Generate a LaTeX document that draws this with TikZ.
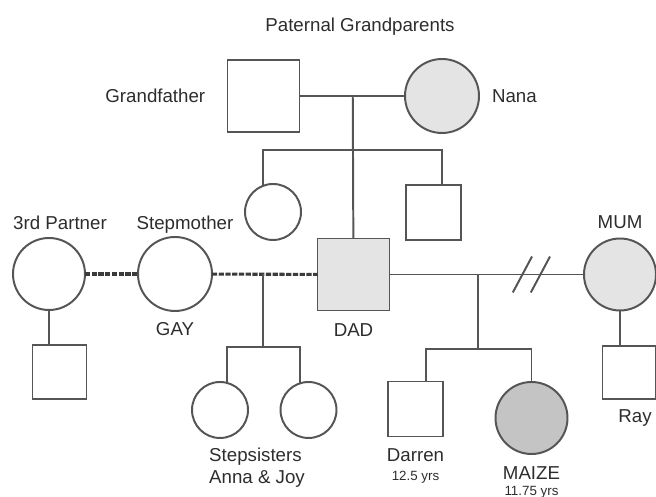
\documentclass[tikz,border=0pt]{standalone}
\usepackage{fontspec}
\setmainfont{Liberation Sans}
\usepackage{xcolor}
\definecolor{grisOscuro}{RGB}{85,85,85}
\definecolor{grisTexto}{RGB}{45,45,45}
\definecolor{grisClaro}{RGB}{228,228,228}
\definecolor{grisMedio}{RGB}{196,196,196}
\usetikzlibrary{positioning,calc}
\tikzstyle{edge}   =[grisOscuro, line width=1.4pt]
\tikzstyle{pareja} =[grisOscuro!70!black, line width=2.2pt,
                     dash pattern=on 3.6pt off 1.2pt]
\tikzstyle{male}   =[rectangle, draw=grisOscuro, fill=white,
                     line width=1.4pt, minimum size=1.375cm,
                     inner sep=0pt, outer sep=0pt]
\tikzstyle{female} =[circle, draw=grisOscuro, fill=white,
                     line width=1.4pt, minimum size=1.4cm,
                     inner sep=0pt, outer sep=0pt]

\begin{document}
\begin{tikzpicture}[font=\fontsize{13.3}{16}\selectfont,
    every label/.style={inner sep=0pt, text=grisTexto}]
    \useasboundingbox (0,0) rectangle (16.4,12.425);

    \node (titulo) at (9.0,11.75) [text=grisTexto] {Paternal Grandparents};

    % abuelos y tios
    \draw (6.5875,10.025) node (gf) [male,minimum size=1.8cm,label={[label distance=0.55cm]180:{Grandfather}}] {};
    \draw (11.05,10.025) node (nana) [female,fill=grisClaro,minimum size=1.85cm,label={[label distance=0.32cm]0:{Nana}}] {};
    \draw (6.825,7.125) node (aunt) [female] {};
    \draw (10.8375,7.1125) node (uncle) [male] {};

    % padres y parejas
    \draw (1.225,5.575) node (p3) [female,minimum size=1.8cm,label={[label distance=0.2cm,xshift=0.275cm]90:{3rd Partner}}] {};
    \draw (4.375,5.575) node (step) [female,minimum size=1.85cm,label={[label distance=0.09cm,xshift=0.25cm]90:{Stepmother}},label={[label distance=0.28cm]270:{GAY}}] {};
    \draw (8.8375,5.5625) node (dad) [male,fill=grisClaro,minimum size=1.8cm,label={[label distance=0.33cm]270:{DAD}}] {};
    \draw (15.5,5.5625) node (mum) [female,fill=grisClaro,minimum size=1.8cm,label={[label distance=0.25cm]90:{MUM}}] {};

    % hijos
    \draw (1.4875,3.125) node (p3hijo) [male,minimum size=1.35cm] {};
    \draw (15.725,3.1125) node (ray) [male,minimum size=1.325cm,label={[label distance=0.27cm,xshift=0.15cm]270:{Ray}}] {};
    \draw (5.5,2.175) node (ss1) [female] {};
    \draw (7.7125,2.175) node (ss2) [female] {};
    \draw (10.3875,2.2) node (darren) [male,label={[label distance=0.3cm,align=center]270:{Darren\\[-2.5pt]{\fontsize{9.5}{11}\selectfont 12.5 yrs}}}] {};
    \draw (13.2875,1.975) node (maize) [female,fill=grisMedio,minimum size=1.8cm,label={[label distance=0.3cm,align=center]270:{MAIZE\\[-4.5pt]{\fontsize{9.5}{11}\selectfont 11.75 yrs}}}] {};
    \node (hermanastras) at (6.425,0.731) [inner sep=0pt,align=left,text=grisTexto] {Stepsisters\\Anna \& Joy};

    \coordinate (gp) at ($(gf)!0.5!(nana)$);
    \coordinate (hd) at (11.05,8.675);
    \coordinate (ms) at (6.575,5.575);
    \coordinate (bs) at (6.575,3.75);
    \coordinate (mp) at (11.95,5.5625);
    \coordinate (bm) at (11.95,3.7);
    \coordinate (bd) at (10.65,3.7);

    \draw [edge] (gf) -- (nana);
    \draw [edge] (gp) -- (dad);
    \draw [edge] (aunt.111) |- (hd) -- (hd |- uncle.north);

    \draw [pareja] (p3) -- (step);
    \draw [pareja] (step) -- (dad);
    \draw [edge] (ms) -- (bs);
    \draw [edge] (ss1.76) -- (ss1.76 |- bs) -- (ss2.107 |- bs) -- (ss2.107);

    \draw [edge] (dad) -- (mum);
    \draw [edge] (mp) -- (bm);
    \draw [edge] (bd |- darren.north) -- (bd) -- (bd -| maize) -- (maize.north);
    \foreach \x in {13.06,13.51}
        \draw [edge] (\x,5.5625) ++(-0.24,-0.45) -- ++(0.48,0.9);

    \draw [edge] (p3.south) -- (p3.south |- p3hijo.north);
    \draw [edge] (mum.south) -- (mum.south |- ray.north);

\end{tikzpicture}
\end{document}
